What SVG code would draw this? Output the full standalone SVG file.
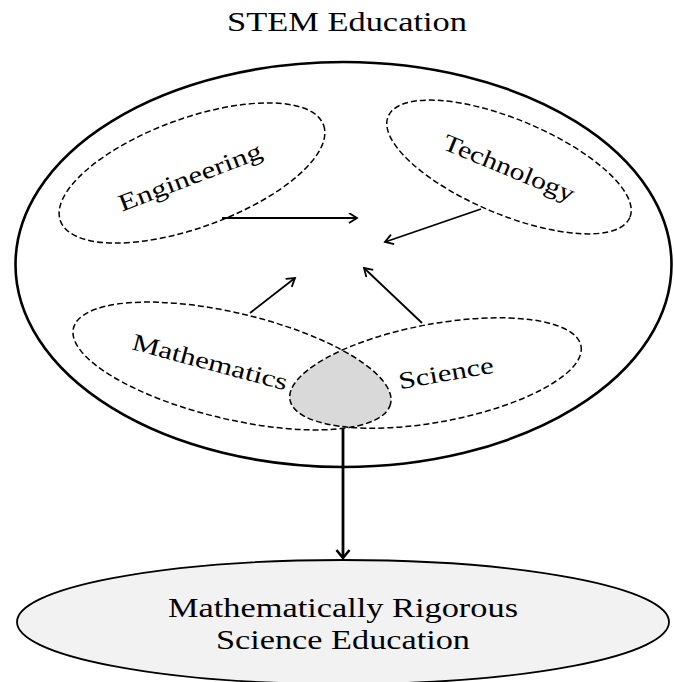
<svg xmlns="http://www.w3.org/2000/svg" width="674" height="682" viewBox="0 0 674 682">
<style>
  text { font-family: "Liberation Serif", "Times New Roman", serif; fill: #000; }
  .dash { fill: none; stroke: #000; stroke-width: 1.5; stroke-dasharray: 6 3; }
  .conn { fill: none; stroke: #000; stroke-width: 1.8; }
  .lbl { font-size: 24px; text-anchor: middle; }
  .big { font-size: 28px; text-anchor: middle; }
</style>
<defs>
  <marker id="ah" markerWidth="12" markerHeight="12" refX="9.5" refY="5.5" orient="auto" markerUnits="userSpaceOnUse">
    <path d="M1.5,0.5 L9.5,5.5 L1.5,10.5" fill="none" stroke="#000" stroke-width="1.8"/>
  </marker>
  <marker id="ahBig" markerWidth="16" markerHeight="16" refX="8" refY="12" orient="0" markerUnits="userSpaceOnUse">
    <path d="M1.5,4 L8,12 L14.5,4" fill="none" stroke="#000" stroke-width="2.6"/>
  </marker>
  <clipPath id="mathClip">
    <ellipse cx="232" cy="366" rx="163" ry="53" transform="rotate(13.4 232 366)"/>
  </clipPath>
</defs>

<g id="title">
  <text x="347" y="31" class="big" textLength="240" lengthAdjust="spacingAndGlyphs">STEM Education</text>
</g>

<g id="stem">
  <ellipse cx="343.5" cy="264.5" rx="328" ry="202.5" fill="none" stroke="#000" stroke-width="2.6"/>
</g>

<g id="overlap" clip-path="url(#mathClip)">
  <ellipse cx="435.5" cy="373" rx="148" ry="49" transform="rotate(-10.5 435.5 373)" fill="#d9d9d9"/>
</g>

<g id="engineering">
  <ellipse cx="192" cy="173" rx="140" ry="54.5" transform="rotate(-20 192 173)" class="dash"/>
  <text class="lbl" transform="translate(190 177) rotate(-21)" y="8" textLength="152" lengthAdjust="spacingAndGlyphs">Engineering</text>
</g>

<g id="technology">
  <ellipse cx="509" cy="167" rx="131" ry="47.5" transform="rotate(22.7 509 167)" class="dash"/>
  <text class="lbl" transform="translate(509 168) rotate(22.5)" y="8" textLength="140" lengthAdjust="spacingAndGlyphs">Technology</text>
</g>

<g id="mathematics">
  <ellipse cx="232" cy="366" rx="163" ry="53" transform="rotate(13.4 232 366)" class="dash"/>
  <text class="lbl" transform="translate(210 362) rotate(15)" y="8" textLength="160" lengthAdjust="spacingAndGlyphs">Mathematics</text>
</g>

<g id="science">
  <ellipse cx="435.5" cy="373" rx="148" ry="49" transform="rotate(-10.5 435.5 373)" class="dash"/>
  <text class="lbl" transform="translate(446 373) rotate(-10)" y="8" textLength="96" lengthAdjust="spacingAndGlyphs">Science</text>
</g>

<g id="result">
  <ellipse cx="343" cy="622" rx="326" ry="62" fill="#f2f2f2" stroke="#000" stroke-width="1.8"/>
  <text x="343" y="617" class="big" textLength="350" lengthAdjust="spacingAndGlyphs">Mathematically Rigorous</text>
  <text x="343" y="649" class="big" textLength="254" lengthAdjust="spacingAndGlyphs">Science Education</text>
</g>

<g id="connectors">
  <line x1="222" y1="218" x2="357" y2="218" class="conn" marker-end="url(#ah)"/>
  <line x1="481" y1="209" x2="385" y2="242" class="conn" marker-end="url(#ah)"/>
  <line x1="250" y1="313" x2="295" y2="278" class="conn" marker-end="url(#ah)"/>
  <line x1="422" y1="323" x2="364" y2="268" class="conn" marker-end="url(#ah)"/>
  <line x1="343" y1="428" x2="343" y2="558" fill="none" stroke="#000" stroke-width="2.8" marker-end="url(#ahBig)"/>
</g>
</svg>
